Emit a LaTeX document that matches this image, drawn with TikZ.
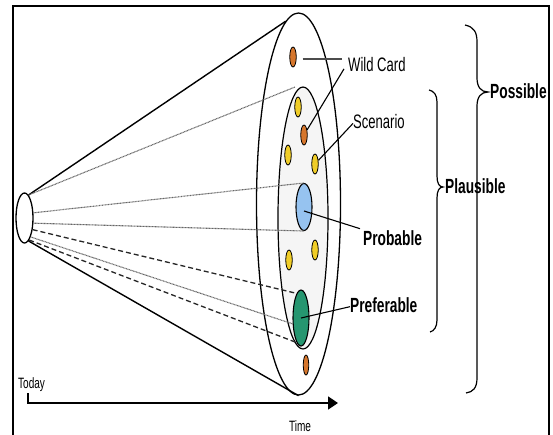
\documentclass[tikz,border=0pt]{standalone}
\usepackage{fontspec}
\setmainfont{Liberation Sans}[FakeStretch=0.67]
\usetikzlibrary{shapes.geometric,arrows.meta,calc}
\definecolor{dotorange}{RGB}{214,118,44}
\definecolor{dotyellow}{RGB}{240,205,40}
\definecolor{dotblue}{RGB}{150,195,240}
\definecolor{dotgreen}{RGB}{38,150,112}
\begin{document}
\begin{tikzpicture}[x=1pt,y=-1pt,
  spot/.style={ellipse,draw,line width=0.8pt,inner sep=0pt,minimum width=6.5pt,minimum height=20pt},
  lab/.style={inner sep=0pt,anchor=base west,font=\fontsize{19.5}{22}\selectfont},
  blab/.style={inner sep=0pt,anchor=base west,font=\fontsize{20.5}{24}\selectfont\bfseries},
  rayline/.style={black!60,line width=1.1pt,dash pattern=on 0.9pt off 0.6pt},
  dashray/.style={black!85,line width=1.3pt,dash pattern=on 5pt off 3pt},
  coneline/.style={line width=1.4pt},
  conn/.style={line width=1.1pt},
  bracepath/.style={line width=1.2pt}]
\useasboundingbox (0,0) rectangle (553,434);
% frame
\draw[line width=1.6pt] (13,440) -- (13,6) -- (549,6) -- (549,440);
% ellipses
\node[ellipse,draw,line width=1.3pt,minimum width=84pt,minimum height=382pt,inner sep=0pt] (outer) at (298.5,204) {};
\node[ellipse,draw,fill=gray!8,line width=1.2pt,minimum width=50pt,minimum height=262pt,inner sep=0pt] (inner) at (303,218) {};
\node[ellipse,draw,fill=white,line width=1.3pt,minimum width=17pt,minimum height=50pt,inner sep=0pt] (now) at (24.5,218) {};
% dots
\node[spot,fill=dotorange] (wcdot) at (293,57) {};
\node[spot,fill=dotyellow] (y1) at (298,107) {};
\node[spot,fill=dotorange] (odot) at (304,135) {};
\node[spot,fill=dotyellow] (y2) at (288,155) {};
\node[spot,fill=dotyellow] (y3) at (315,164) {};
\node[spot,fill=dotyellow] (y4) at (315,250) {};
\node[spot,fill=dotyellow] (y5) at (289,260) {};
\node[spot,fill=dotorange,minimum width=5.5pt] (bdot) at (306,365) {};
% cone
\draw[coneline] (now.80) -- (outer.94);
\draw[coneline] (now.-80) -- (outer.south);
% rays
\coordinate (itop) at (295,87);
\draw[rayline] (now.80) -- (itop);
\node[ellipse,draw,fill=dotblue,line width=1.1pt,minimum width=16pt,minimum height=47pt,inner sep=0pt] (blue) at (304,207) {};
\node[ellipse,draw,fill=dotgreen,line width=1.1pt,minimum width=16pt,minimum height=56pt,inner sep=0pt] (green) at (301,318) {};
\draw[rayline] (now.30) -- (blue.north);
\draw[rayline] (now.-30) -- (blue.south);
\draw[dashray] (now.-55) -- (green.100);
\draw[rayline] (now.-72) -- (green.215);
\draw[dashray] (now.-78) -- (green.260);
% labels
\node[lab] (wildcard) at (348,71.5) {Wild Card};
\node[lab] (scenario) at (353,128) {Scenario};
\node[blab] (probable) at (363,245) {Probable};
\node[blab] (preferable) at (350,312) {Preferable};
\node[blab] (plausible) at (445,193) {Plausible};
\node[blab] (possible) at (490,98) {Possible};
\node[inner sep=0pt,anchor=base west,font=\fontsize{15}{18}\selectfont] (today) at (18,388) {Today};
\node[inner sep=0pt,anchor=base,font=\fontsize{15}{18}\selectfont] (time) at (300,431) {Time};
% connectors
\draw[conn,black!70,shorten >=6pt] ($(wcdot.east)+(6,2)$) coordinate (w1) -- (w1 -| wildcard.west);
\draw[conn] (odot) -- ($(wildcard.south west)+(-4,-3)$);
\draw[conn] (y3) -- ($(scenario.south west)+(0,-5)$);
\draw[conn] ($(blue.center)+(0,4)$) -- ($(probable.west)+(-3,-9)$);
\draw[conn] (green.center) -- ($(preferable.west)+(0,2)$);
% braces
\draw[bracepath] (465,25) .. controls (474,27) and (477,32) .. (477,42) -- (477,78)
  .. controls (477,87) and (481,92) .. (488,92)
  .. controls (481,92) and (477,97) .. (477,106) -- (477,378)
  .. controls (477,388) and (473,392) .. (466,393);
\draw[bracepath] (429,90) .. controls (434,91) and (437,95) .. (437,102) -- (437,176)
  .. controls (437,183) and (439,187) .. (443,187)
  .. controls (439,187) and (437,191) .. (437,198) -- (437,320)
  .. controls (437,327) and (434,331) .. (430,332);
% time arrow
\coordinate (tstart) at (28,393);
\coordinate (tend) at (338,403);
\draw[line width=1.8pt,-{Triangle[length=10pt,width=13pt]}] (tstart) |- (tend);
\end{tikzpicture}
\end{document}
